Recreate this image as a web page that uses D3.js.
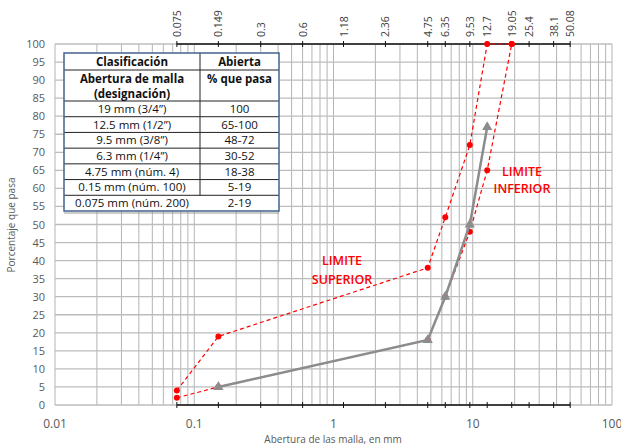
<!DOCTYPE html>
<html>
<head>
<meta charset="utf-8">
<script src="https://cdn.jsdelivr.net/npm/d3@7"></script>
<style>
  body { margin: 0; background: #fff; }
  svg { font-family: "Open Sans", "Liberation Sans", sans-serif; }
</style>
</head>
<body>
<script>
// sieve openings (mm) used on the top / bottom secondary axis
const sieveTicks = [0.075, 0.149, 0.3, 0.6, 1.18, 2.36, 4.75, 6.35, 9.53, 12.7, 19.05, 25.4, 38.1, 50.08];
const decadeTicks = [0.01, 0.1, 1, 10, 100];
const yTicks = d3.range(0, 101, 5);

// curves
const upperSizes = [0.075, 0.149, 4.75, 6.35, 9.53, 12.7, 19.05];
const upperPass = [4, 19, 38, 52, 72, 100, 100];
const lowerSizes = [0.075, 0.149, 4.75, 6.35, 9.53, 12.7, 19.05];
const lowerPass = [2, 5, 18, 30, 48, 65, 100];
const sampleSizes = [0.149, 4.75, 6.35, 9.53, 12.7];
const samplePass = [5, 18, 30, 50, 77];

// table
const tableHead = [["Clasificación", "Abierta"], ["Abertura de malla\n(designación)", "% que pasa"]];
const meshNames = ["19 mm (3/4”)", "12.5 mm (1/2”)", "9.5 mm (3/8”)", "6.3 mm (1/4”)", "4.75 mm (núm. 4)", "0.15 mm (núm. 100)", "0.075 mm (núm. 200)"];
const meshRanges = ["100", "65-100", "48-72", "30-52", "18-38", "5-19", "2-19"];

const W = 621, H = 447;
const svg = d3.select("body").append("svg").attr("width", W).attr("height", H);

const x = d3.scaleLog().domain([0.01, 100]).range([55, 612]);
const y = d3.scaleLinear().domain([0, 100]).range([405, 44]);

// grid
const gridX = [];
for (let e = -2; e < 2; e++) for (let m = 1; m <= 9; m++) gridX.push(m * Math.pow(10, e));
gridX.push(100);
const grid = svg.append("g");
grid.selectAll("line.v").data(gridX).enter().append("line")
  .attr("x1", d => x(d)).attr("x2", d => x(d))
  .attr("y1", y(0)).attr("y2", y(100))
  .attr("stroke", "#b4b4b4").attr("stroke-width", 1);
grid.selectAll("line.h").data(yTicks).enter().append("line")
  .attr("x1", x(0.01)).attr("x2", x(100))
  .attr("y1", d => y(d)).attr("y2", d => y(d))
  .attr("stroke", "#bcbcbc").attr("stroke-width", 1.3);

// y axis labels
svg.append("g").selectAll("text").data(yTicks).enter().append("text")
  .attr("x", 45).attr("y", d => y(d) + 4)
  .attr("text-anchor", "end").attr("font-size", 11).attr("fill", "#595959")
  .text(d => d);

// bottom decade labels
svg.append("g").selectAll("text").data(decadeTicks).enter().append("text")
  .attr("x", d => x(d)).attr("y", 428)
  .attr("text-anchor", "middle").attr("font-size", 12).attr("fill", "#595959")
  .text(d => d);

// secondary axes with sieve sizes
const sx0 = x(sieveTicks[0]), sx1 = x(sieveTicks[sieveTicks.length - 1]);
[y(0), y(100)].forEach(yy => {
  svg.append("line").attr("x1", sx0).attr("x2", sx1).attr("y1", yy).attr("y2", yy)
    .attr("stroke", "#111").attr("stroke-width", 1.5);
  svg.append("g").selectAll("line").data(sieveTicks).enter().append("line")
    .attr("x1", d => x(d)).attr("x2", d => x(d))
    .attr("y1", yy - 3).attr("y2", yy + 3)
    .attr("stroke", "#111").attr("stroke-width", 1);
});
svg.append("g").selectAll("text").data(sieveTicks).enter().append("text")
  .attr("transform", d => `translate(${x(d) + 4},37) rotate(-90)`)
  .attr("text-anchor", "start").attr("font-size", 10.5).attr("fill", "#404040")
  .text(d => d);

// axis titles
svg.append("text").attr("transform", "translate(15,225) rotate(-90)")
  .attr("text-anchor", "middle").attr("font-size", 10).attr("fill", "#595959")
  .text("Porcentaje que pasa");
svg.append("text").attr("x", 333).attr("y", 443)
  .attr("text-anchor", "middle").attr("font-size", 10).attr("fill", "#595959")
  .text("Abertura de las malla, en mm");

// curves
const line = d3.line().x(d => x(d[0])).y(d => y(d[1]));
const upper = d3.zip(upperSizes, upperPass);
const lower = d3.zip(lowerSizes, lowerPass);
const sample = d3.zip(sampleSizes, samplePass);

[upper, lower].forEach(pts => {
  svg.append("path").datum(pts).attr("d", line)
    .attr("fill", "none").attr("stroke", "#ff0000")
    .attr("stroke-width", 1.2).attr("stroke-dasharray", "4,3");
  svg.append("g").selectAll("circle").data(pts).enter().append("circle")
    .attr("cx", d => x(d[0])).attr("cy", d => y(d[1])).attr("r", 3)
    .attr("fill", "#ff0000");
});

svg.append("path").datum(sample).attr("d", line)
  .attr("fill", "none").attr("stroke", "#8c8c8c").attr("stroke-width", 2.5);
svg.append("g").selectAll("path").data(sample).enter().append("path")
  .attr("d", d3.symbol().type(d3.symbolTriangle).size(45))
  .attr("transform", d => `translate(${x(d[0])},${y(d[1])})`)
  .attr("fill", "#8c8c8c");

// curve labels
const lab = svg.append("g").attr("fill", "#ff0000").attr("font-size", 12.5)
  .attr("font-weight", 600).attr("text-anchor", "middle");
lab.append("text").attr("x", 342).attr("y", 265).text("LIMITE");
lab.append("text").attr("x", 342).attr("y", 284).text("SUPERIOR");
lab.append("text").attr("x", 522).attr("y", 176).text("LIMITE");
lab.append("text").attr("x", 522).attr("y", 193).text("INFERIOR");

// table
const tx0 = 64, tx1 = 279, tmid = 200;
const bodyTop = 101, bodyBottom = 211;
const rowH = (bodyBottom - bodyTop) / meshNames.length;
const rowEdges = [53, 70].concat(d3.range(meshNames.length + 1).map(i => bodyTop + i * rowH));
const tbl = svg.append("g");
tbl.append("rect").attr("x", tx0).attr("y", rowEdges[0])
  .attr("width", tx1 - tx0).attr("height", bodyBottom - rowEdges[0])
  .attr("fill", "#fff");
tbl.selectAll("line.r").data(rowEdges.slice(1, -1)).enter().append("line")
  .attr("x1", tx0).attr("x2", tx1).attr("y1", d => d).attr("y2", d => d)
  .attr("stroke", "#222").attr("stroke-width", 1);
tbl.append("line").attr("x1", tmid).attr("x2", tmid)
  .attr("y1", rowEdges[0]).attr("y2", rowEdges[rowEdges.length - 2])
  .attr("stroke", "#222").attr("stroke-width", 1);
tbl.append("rect").attr("x", tx0).attr("y", rowEdges[0])
  .attr("width", tx1 - tx0).attr("height", bodyBottom - rowEdges[0])
  .attr("fill", "none").attr("stroke", "#41648c").attr("stroke-width", 1.5);
tbl.append("line").attr("x1", tx0).attr("x2", tx1).attr("y1", 213).attr("y2", 213)
  .attr("stroke", "#999").attr("stroke-width", 1);

const c1 = (tx0 + tmid) / 2, c2 = (tmid + tx1) / 2;
tableHead.forEach((row, i) => {
  row.forEach((txt, j) => {
    const parts = txt.split("\n");
    parts.forEach((p, k) => {
      tbl.append("text").attr("x", j ? c2 : c1)
        .attr("y", rowEdges[i] + 13 + k * 15)
        .attr("text-anchor", "middle").attr("font-size", 11.5)
        .attr("font-weight", "bold").attr("fill", "#111").text(p);
    });
  });
});
meshNames.forEach((name, i) => {
  const yy = rowEdges[i + 2] + rowH / 2 + 4;
  tbl.append("text").attr("x", c1).attr("y", yy).attr("text-anchor", "middle")
    .attr("font-size", 11.5).attr("fill", "#111").text(name);
  tbl.append("text").attr("x", c2).attr("y", yy).attr("text-anchor", "middle")
    .attr("font-size", 11.5).attr("fill", "#111").text(meshRanges[i]);
});
</script>
</body>
</html>
